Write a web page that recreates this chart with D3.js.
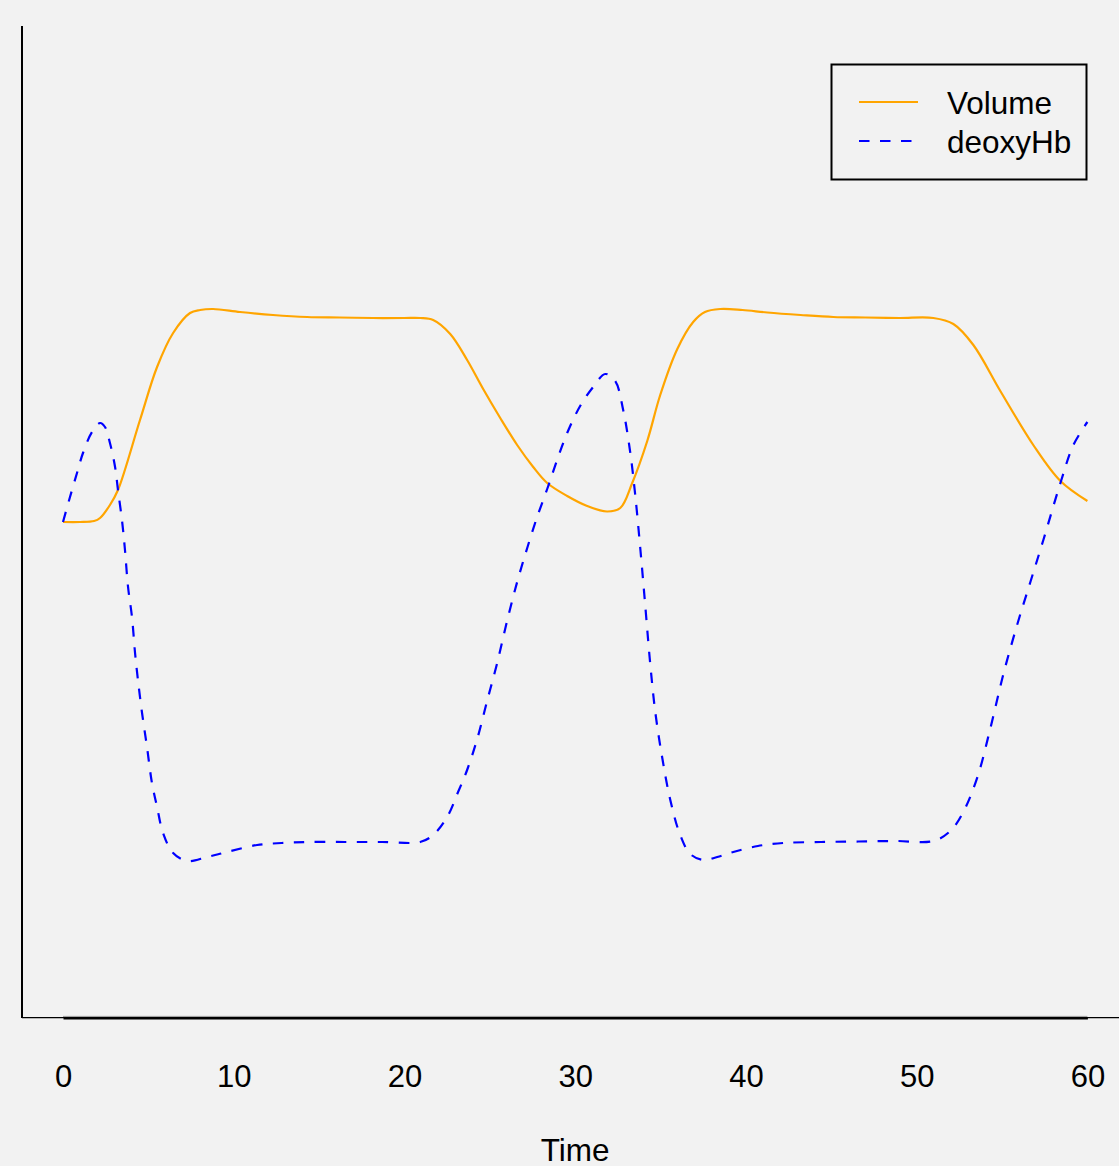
<!DOCTYPE html>
<html>
<head>
<meta charset="utf-8">
<script src="https://cdn.jsdelivr.net/npm/d3@7"></script>
<style>
  html, body { margin: 0; padding: 0; background: #f2f2f2; }
  svg { display: block; }
  text { font-family: "Liberation Sans", Arial, sans-serif; fill: #000; }
</style>
</head>
<body>
<script>
// ---- data ----
const volumeTime = [0, 1.0, 1.82, 2.17, 2.75, 3.22, 4.51, 5.51, 6.45, 7.44, 8.03, 8.79, 10.37, 12.3, 14.3, 16.2, 18.16, 20.0, 20.92, 21.68, 22.68, 23.67, 24.61, 25.61, 26.6, 27.54, 28.36, 29.53, 30.7, 31.87, 32.64, 33.34, 34.22, 34.98, 35.98, 36.91, 37.6, 38.49, 39.8, 41.25, 43.2, 45.12, 47.0, 49.0, 50.98, 52.15, 53.32, 54.9, 56.83, 58.42, 60];
const volumeValue = [0, 0, 0.01, 0.04, 0.17, 0.32, 1.02, 1.55, 1.89, 2.09, 2.12, 2.13, 2.10, 2.07, 2.05, 2.045, 2.04, 2.04, 2.04, 2.02, 1.88, 1.62, 1.33, 1.04, 0.77, 0.55, 0.39, 0.26, 0.16, 0.105, 0.14, 0.39, 0.81, 1.27, 1.73, 2.00, 2.10, 2.13, 2.12, 2.095, 2.07, 2.05, 2.045, 2.04, 2.04, 1.98, 1.77, 1.31, 0.77, 0.41, 0.21];

const deoxyTime = [0, 0.41, 0.82, 1.17, 1.7, 2.17, 2.46, 2.75, 3.05, 3.22, 3.46, 3.63, 3.81, 4.04, 4.22, 4.39, 4.63, 4.92, 5.21, 5.51, 5.86, 6.45, 7.27, 8.44, 9.61, 11.37, 12.8, 14.3, 16.5, 18.7, 20.92, 21.68, 22.5, 23.14, 23.67, 24.26, 24.84, 25.43, 26.01, 26.6, 27.19, 27.77, 28.36, 28.94, 29.53, 30.29, 31.05, 31.76, 32.34, 32.81, 33.22, 33.51, 33.81, 34.1, 34.39, 34.69, 35.1, 35.57, 36.15, 36.74, 37.5, 38.32, 39.26, 40.7, 42.19, 44.4, 46.6, 48.8, 50.98, 51.97, 52.73, 53.56, 54.32, 55.08, 55.9, 56.66, 57.42, 58.42, 59.18, 60];
const deoxyValue = [0, 0.25, 0.49, 0.69, 0.90, 0.99, 0.95, 0.79, 0.55, 0.32, 0.01, -0.28, -0.65, -0.95, -1.31, -1.58, -1.91, -2.25, -2.61, -2.85, -3.11, -3.31, -3.39, -3.35, -3.30, -3.23, -3.21, -3.20, -3.20, -3.20, -3.20, -3.13, -2.95, -2.70, -2.48, -2.17, -1.79, -1.41, -0.99, -0.60, -0.26, 0.05, 0.33, 0.62, 0.89, 1.16, 1.35, 1.48, 1.41, 1.12, 0.70, 0.28, -0.26, -0.83, -1.41, -1.90, -2.36, -2.78, -3.13, -3.32, -3.38, -3.35, -3.30, -3.24, -3.21, -3.20, -3.195, -3.19, -3.19, -3.09, -2.90, -2.55, -2.06, -1.52, -1.02, -0.60, -0.18, 0.39, 0.77, 1.00];

const xTicks = [0, 10, 20, 30, 40, 50, 60];
const seriesNames = ["Volume", "deoxyHb"];
const seriesColors = ["#FFA500", "#0000FF"];
const xLabel = "Time";

// ---- drawing ----
const W = 1119, H = 1166;
const svg = d3.select("body").append("svg").attr("width", W).attr("height", H);
svg.append("rect").attr("width", W).attr("height", H).attr("fill", "#f2f2f2");

const x = d3.scaleLinear().domain([0, 60]).range([63, 1087.4]);
const y = d3.scaleLinear().domain([-5, 5]).range([1022, 22]);

// frame lines
svg.append("line").attr("x1", 22).attr("x2", 22).attr("y1", 26).attr("y2", 1018)
  .attr("stroke", "#000").attr("stroke-width", 2);
svg.append("line").attr("x1", 22).attr("x2", W).attr("y1", 1017.6).attr("y2", 1017.6)
  .attr("stroke", "#000").attr("stroke-width", 1.3);

// x axis
const xAxis = d3.axisBottom(x).tickValues(xTicks).tickSize(0).tickPadding(0).tickFormat(d3.format("d"));
const gx = svg.append("g").attr("transform", "translate(0,1018)").call(xAxis);
gx.select(".domain").attr("stroke", "#000").attr("stroke-width", 2.2);
gx.append("line").attr("x1", x(0)).attr("x2", x(60)).attr("y1", -1.6).attr("y2", -1.6)
  .attr("stroke", "#9a9a9a").attr("stroke-width", 1);
gx.selectAll(".tick text")
  .attr("y", 69).attr("dy", null)
  .style("font-family", '"Liberation Sans", Arial, sans-serif')
  .style("font-size", "31px").attr("fill", "#000");

svg.append("text").attr("x", x(30)).attr("y", 1161).attr("text-anchor", "middle")
  .style("font-size", "31.5px").text(xLabel);

// series
const line = d3.line().x(d => x(d[0])).y(d => y(d[1])).curve(d3.curveCatmullRom.alpha(0.5));
const volData = volumeTime.map((t, i) => [t, volumeValue[i]]);
const deoData = deoxyTime.map((t, i) => [t, deoxyValue[i]]);

svg.append("path").datum(volData).attr("d", line).attr("fill", "none")
  .attr("stroke", seriesColors[0]).attr("stroke-width", 2.2);
svg.append("path").datum(deoData).attr("d", line).attr("fill", "none")
  .attr("stroke", seriesColors[1]).attr("stroke-width", 2.2)
  .attr("stroke-dasharray", "10.5,10.5");

// legend
const lg = svg.append("g");
lg.append("rect").attr("x", 831.5).attr("y", 64.5).attr("width", 255).attr("height", 115)
  .attr("fill", "none").attr("stroke", "#000").attr("stroke-width", 2);
const rows = [102, 141];
seriesNames.forEach((name, i) => {
  lg.append("line").attr("x1", 859).attr("x2", 918).attr("y1", rows[i]).attr("y2", rows[i])
    .attr("stroke", seriesColors[i]).attr("stroke-width", 2.2)
    .attr("stroke-dasharray", i === 1 ? "10.5,10.5" : null);
  lg.append("text").attr("x", 947).attr("y", rows[i] + 11.5)
    .style("font-size", "31.5px").text(name);
});
</script>
</body>
</html>
